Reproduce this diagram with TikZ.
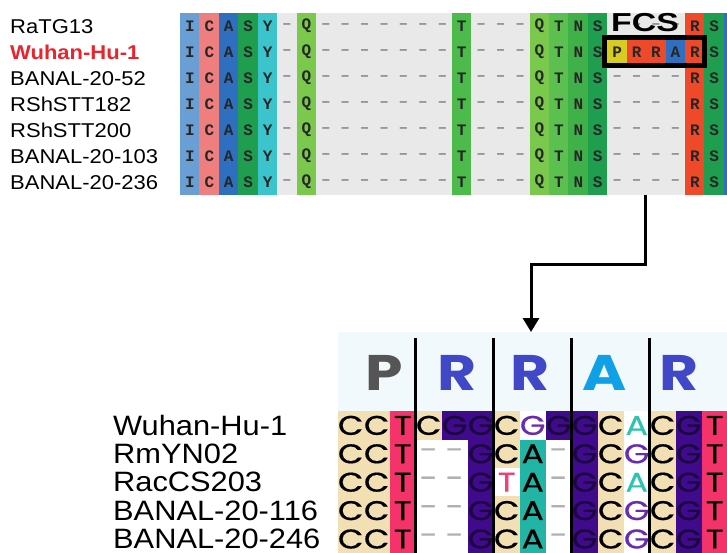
\documentclass[tikz,border=0pt]{standalone}
\usepackage{fontspec}
\usepackage{tikz}
\usetikzlibrary{arrows.meta}

\newfontfamily\namefont[FakeStretch=1.1]{Liberation Sans}
\newfontfamily\resfont{Liberation Mono}
\newfontfamily\ntfont[FakeStretch=1.22,FakeBold=0.6]{Poppins}
\newfontfamily\headfont[FakeStretch=1.2]{Poppins}
\newfontfamily\fcsfont[FakeStretch=1.3]{Liberation Sans}

% amino acid columns
\definecolor{cI}{HTML}{6A9FD6}
\definecolor{cC}{HTML}{EF7F7F}
\definecolor{cA}{HTML}{2E6FC0}
\definecolor{cS}{HTML}{1F9E4F}
\definecolor{cY}{HTML}{3CC4CC}
\definecolor{cQ}{HTML}{7AC94C}
\definecolor{cT}{HTML}{4CBB4C}
\definecolor{cT2}{HTML}{5CC050}
\definecolor{cN}{HTML}{40B048}
\definecolor{cR}{HTML}{EE4A2A}
\definecolor{cP}{HTML}{D8CC22}
\definecolor{gap}{HTML}{E9E9E9}
\definecolor{ink}{HTML}{262626}
\definecolor{dash}{HTML}{8A8A8A}
\definecolor{wuhanred}{HTML}{E8242E}
% nucleotides
\definecolor{ntTan}{HTML}{F2DFB3}
\definecolor{ntRed}{HTML}{F4336B}
\definecolor{ntPur}{HTML}{400A8C}
\definecolor{ntTeal}{HTML}{22B5A5}
\definecolor{ntGink}{HTML}{1C0840}
\definecolor{ntDash}{HTML}{B0B0B0}
\definecolor{wPur}{HTML}{6B2BB0}
\definecolor{wTeal}{HTML}{2EC2B0}
\definecolor{wPink}{HTML}{F0407A}
\definecolor{headbg}{HTML}{F1F9FC}
\definecolor{hP}{HTML}{555555}
\definecolor{hR}{HTML}{4048C8}
\definecolor{hA}{HTML}{10A0E8}

\tikzset{
    toplab/.style={anchor=base west, inner sep=0pt, font=\namefont\fontsize{20}{20}\selectfont},
    wuhanlab/.style={toplab, text=wuhanred, font=\namefont\bfseries\fontsize{20}{20}\selectfont},
    botlab/.style={anchor=base west, inner sep=0pt, font=\namefont\fontsize{28}{28}\selectfont},
    res/.style={minimum width=19.42pt, minimum height=26pt, inner sep=0pt, anchor=north west,
        text=ink, font=\resfont\bfseries\fontsize{16}{16}\selectfont},
    gapres/.style={res, text=dash},
    fcsbox/.style={draw=black, line width=5pt},
    nt/.style={minimum width=26pt, minimum height=28.4pt, inner sep=0pt, anchor=north west,
        font=\ntfont\fontsize{27}{27}\selectfont},
    ntan/.style={nt, fill=ntTan, text=black},
    nred/.style={nt, fill=ntRed, text=black},
    npur/.style={nt, fill=ntPur, text=ntGink},
    nteal/.style={nt, fill=ntTeal, text=black},
    ngap/.style={nt, text=ntDash},
    wpur/.style={nt, text=wPur},
    wteal/.style={nt, text=wTeal},
    wpink/.style={nt, text=wPink},
    headres/.style={inner sep=0pt, font=\headfont\bfseries\fontsize{50}{50}\selectfont},
    codonline/.style={line width=2.5pt},
    flow/.style={line width=3pt, -{Triangle[width=16pt,length=14pt]}}
}

\begin{document}
\begin{tikzpicture}[x=1pt, y=-1pt]
        % \draw[help lines] (0,0) grid (727,553);
        \useasboundingbox (0,0) rectangle (727,553);
        \clip (0,0) rectangle (727,553);

        % protein alignment
        \foreach \tint [count=\c from 0] in {cI,cC,cA,cS,cY,gap,cQ,gap,gap,gap,gap,gap,gap,gap,cT,gap,gap,gap,cQ,cT2,cN,cS,gap,gap,gap,gap,cR,cS,cA}
            \fill[\tint] (180+19.42*\c,13) rectangle ++(19.42,182);

        \foreach \lab/\sty [count=\r from 0] in {RaTG13/toplab,Wuhan-Hu-1/wuhanlab,BANAL-20-52/toplab,RShSTT182/toplab,RShSTT200/toplab,BANAL-20-103/toplab,BANAL-20-236/toplab}
            \node[\sty] (top-\r) at (10,33.5+26*\r) {\lab};

        \foreach \aa/\c in {I/0,C/1,A/2,S/3,Y/4,Q/6,T/14,Q/18,T/19,N/20,S/21,R/26,S/27}
            \foreach \r in {0,...,6}
                \node[res] (res-\r-\c) at (180+19.42*\c,13+26*\r) {\aa};

        \foreach \c in {5,7,8,9,10,11,12,13,15,16,17}
            \foreach \r in {0,...,6}
                \node[gapres] (res-\r-\c) at (180+19.42*\c,13+26*\r) {\textendash};
        \foreach \c in {22,...,25}
            \foreach \r in {0,2,3,4,5,6}
                \node[gapres] (res-\r-\c) at (180+19.42*\c,13+26*\r) {\textendash};

        \foreach \aa/\tint [count=\c from 22] in {P/cP,R/cR,R/cR,A/cA}
            \node[res, fill=\tint] (res-1-\c) at (180+19.42*\c,39) {\aa};

        \draw[fcsbox] ([shift={(-2.5pt,1.5pt)}]res-1-22.north west) rectangle ([shift={(0pt,-0.5pt)}]res-1-26.south east);
        \node[font=\fcsfont\bfseries\fontsize{26}{26}\selectfont, inner sep=0pt] (fcs) at (645,22.5) {FCS};

        % codon view
        \fill[headbg] (337.5,332) rectangle (727,411);

        \foreach \aa/\ink/\x [count=\k from 0] in {P/hP/384,R/hR/457,R/hR/530,A/hA/605,R/hR/679}
            \node[headres, text=\ink] (aa-\k) at (\x,373) {\aa};

        \foreach \cells [count=\r from 0] in {
            {ntan/C,ntan/C,nred/T,ntan/C,npur/G,npur/G,ntan/C,wpur/G,npur/G,npur/G,ntan/C,wteal/A,ntan/C,npur/G,nred/T},
            {ntan/C,ntan/C,nred/T,ngap/-,ngap/-,npur/G,ntan/C,nteal/A,ngap/-,npur/G,ntan/C,wpur/G,ntan/C,npur/G,nred/T},
            {ntan/C,ntan/C,nred/T,ngap/-,ngap/-,npur/G,wpink/T,nteal/A,ngap/-,npur/G,ntan/C,wteal/A,ntan/C,npur/G,nred/T},
            {ntan/C,ntan/C,nred/T,ngap/-,ngap/-,npur/G,ntan/C,nteal/A,ngap/-,npur/G,ntan/C,wpur/G,ntan/C,npur/G,nred/T},
            {ntan/C,ntan/C,nred/T,ngap/-,ngap/-,npur/G,ntan/C,nteal/A,ngap/-,npur/G,ntan/C,wpur/G,ntan/C,npur/G,nred/T}}
            \foreach \kind/\b [count=\k from 0] in \cells
                \node[\kind] (nt-\r-\k) at (337.5+26*\k,411+28.4*\r) {\b};

        \foreach \lab [count=\r from 0] in {Wuhan-Hu-1,RmYN02,RacCS203,BANAL-20-116,BANAL-20-246}
            \node[botlab] (bot-\r) at (113,435+28.4*\r) {\lab};

        \foreach \x in {415.5,493.5,571.5,649.5}
            \draw[codonline] (\x,338) -- (\x,553);

        % link
        \coordinate (fcsfoot) at (645,195);
        \coordinate (headtop) at (531,332);
        \draw[flow] (fcsfoot) -- ++(0,69) -| (headtop);

    \end{tikzpicture}
\end{document}
